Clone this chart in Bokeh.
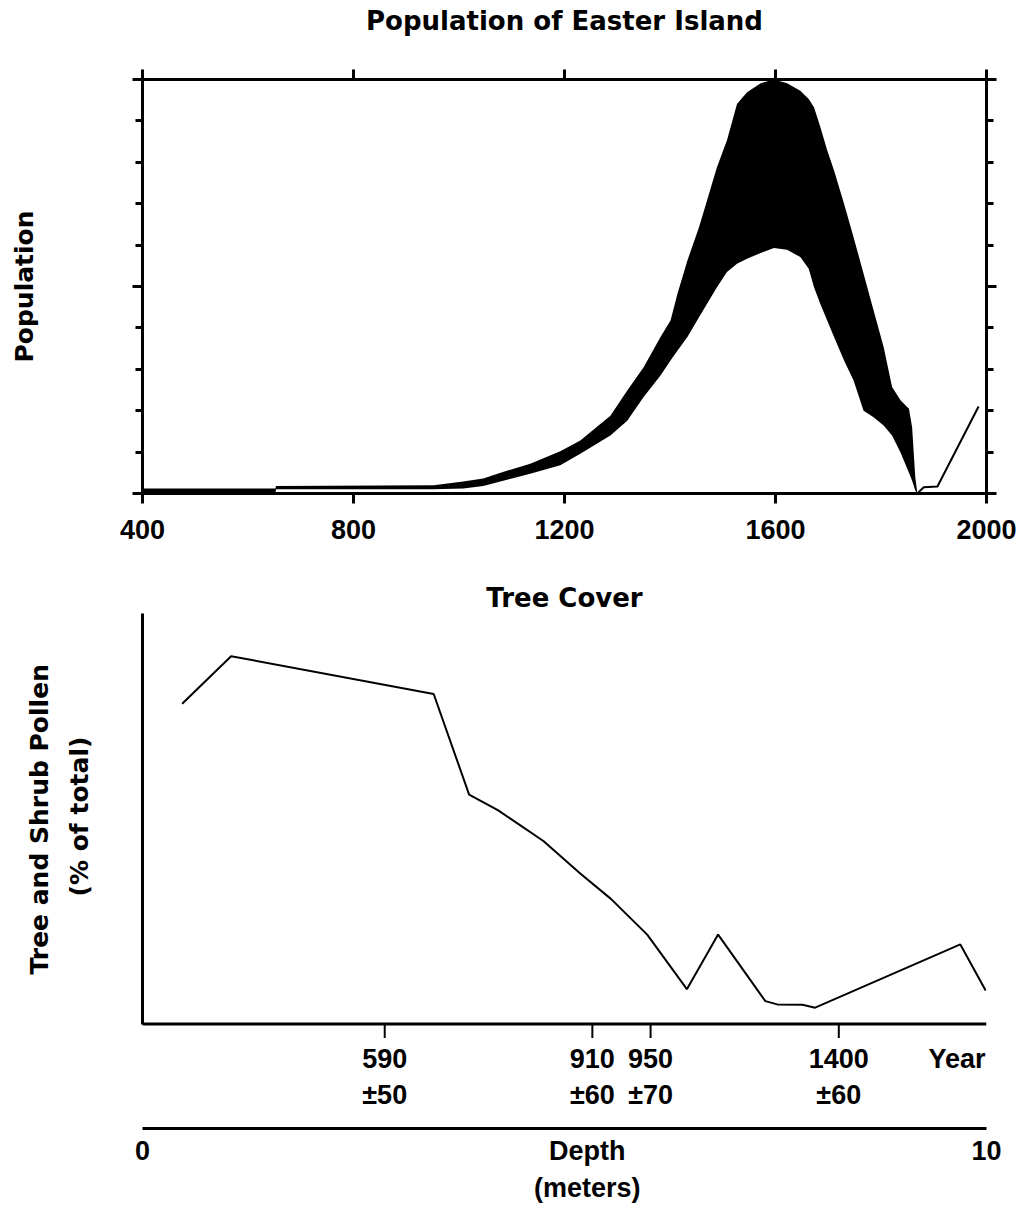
import math
from bokeh.plotting import figure
from bokeh.models import Range1d, LinearAxis, FixedTicker, Span, Grid, Title
from bokeh.core.properties import value
from bokeh.layouts import column
from bokeh.embed import file_html
from bokeh.resources import INLINE

# ---------------- data: population of Easter Island ----------------
pop_years = [400, 652, 653, 952, 1008, 1046, 1073, 1135, 1192, 1230, 1287, 1319,
             1350, 1382, 1401, 1414, 1433, 1455, 1474, 1489, 1508, 1527, 1546,
             1572, 1597, 1622, 1647, 1663, 1673, 1685, 1698, 1711, 1730, 1748,
             1767, 1786, 1805, 1821, 1837, 1853, 1859, 1865, 1869]
pop_low = [0, 0, 0.10, 0.10, 0.12, 0.18, 0.27, 0.48, 0.68, 0.96, 1.40, 1.76,
           2.33, 2.85, 3.21, 3.45, 3.78, 4.26, 4.66, 4.98, 5.35, 5.55, 5.67,
           5.81, 5.93, 5.89, 5.71, 5.43, 4.98, 4.58, 4.18, 3.78, 3.21, 2.73,
           2.00, 1.84, 1.64, 1.40, 0.99, 0.50, 0.31, 0.07, 0]
pop_high = [0.12, 0.12, 0.18, 0.20, 0.29, 0.36, 0.48, 0.72, 1.02, 1.28, 1.88, 2.49,
            3.05, 3.78, 4.18, 4.82, 5.63, 6.43, 7.24, 7.88, 8.53, 9.41, 9.69,
            9.91, 10.0, 9.91, 9.73, 9.53, 9.33, 8.85, 8.29, 7.80, 7.00, 6.19,
            5.31, 4.42, 3.54, 2.57, 2.25, 2.05, 1.60, 0.39, 0]
recent_years = [1869, 1881, 1907, 1985]
recent_pop = [0, 0.15, 0.17, 2.1]
year_ticks = [400, 800, 1200, 1600, 2000]
pop_ticks_major = [0, 5, 10]
pop_ticks_minor = list(range(0, 11))

# ---------------- data: tree cover (pollen) ----------------
depth_m = [0.47, 1.05, 3.45, 3.87, 4.21, 4.75, 5.19, 5.55, 5.98, 6.45, 6.82,
           7.38, 7.52, 7.82, 7.97, 9.69, 9.99]
pollen_pct = [78.0, 89.6, 80.4, 55.9, 52.1, 44.6, 36.6, 30.5, 21.8, 8.5, 21.8,
              5.6, 4.8, 4.7, 4.0, 19.4, 8.2]
dated_depths = [2.87, 5.33, 6.02, 8.25]
dated_years = ["590", "910", "950", "1400"]
dated_errors = ["\u00b150", "\u00b160", "\u00b170", "\u00b160"]
year_word = ["Year"]
year_word_depth = [9.65]
depth_ticks = [0, 5.27, 10]
depth_labels = {0: "0", 5.27: "Depth\n(meters)", 10: "10"}

TXT = "DejaVu Sans"
NUM = "Liberation Sans"


def style_axis(ax, tick_out=0, minor_out=0, tick_w=3, labels=False):
    ax.axis_line_width = 3
    ax.axis_line_color = "black"
    ax.major_tick_line_width = tick_w
    ax.major_tick_line_color = "black"
    ax.major_tick_out = tick_out
    ax.major_tick_in = 0
    ax.minor_tick_line_width = tick_w
    ax.minor_tick_line_color = "black"
    ax.minor_tick_out = minor_out
    ax.minor_tick_in = 0
    if labels:
        ax.major_label_text_font = NUM
        ax.major_label_text_font_style = "bold"
        ax.major_label_text_font_size = "27px"
        ax.major_label_text_color = "black"
    else:
        ax.major_label_text_color = None
        ax.major_label_text_font_size = "1px"
        ax.major_label_standoff = 0


def style_axis_label(ax, text, standoff, size="25px"):
    ax.axis_label = text
    ax.axis_label_text_font = TXT
    ax.axis_label_text_font_style = "bold"
    ax.axis_label_text_font_size = size
    ax.axis_label_text_color = "black"
    ax.axis_label_standoff = standoff


def no_grid(p):
    for g in p.select(type=Grid):
        g.visible = False


def style_title(t, size="26px", align="center"):
    t.align = align
    t.text_font = TXT
    t.text_font_style = "bold"
    t.text_font_size = size
    t.text_color = "black"


# ---------------- top figure ----------------
p1 = figure(width=1021, height=556, x_range=Range1d(400, 2000), y_range=Range1d(0, 10),
            output_backend="svg", toolbar_location=None, title_location=None,
            x_axis_location=None, y_axis_location=None,
            min_border_left=142, min_border_right=35, min_border_top=79, min_border_bottom=63)
p1.outline_line_color = None
p1.background_fill_color = "white"
p1.border_fill_color = "white"
no_grid(p1)

bot = LinearAxis(ticker=FixedTicker(ticks=year_ticks, minor_ticks=[]))
style_axis(bot, tick_out=10, labels=True)
bot.major_label_standoff = 16
p1.add_layout(bot, "below")

# top frame edge carries the chart title
top = LinearAxis(ticker=FixedTicker(ticks=year_ticks, minor_ticks=[]))
style_axis(top, tick_out=10)
style_axis_label(top, "Population of Easter Island", 34, "26px")
p1.add_layout(top, "above")

lft = LinearAxis(ticker=FixedTicker(ticks=pop_ticks_major, minor_ticks=pop_ticks_minor))
style_axis(lft, tick_out=10, minor_out=7)
style_axis_label(lft, "Population", 94)
p1.add_layout(lft, "left")

rgt = LinearAxis(ticker=FixedTicker(ticks=pop_ticks_major, minor_ticks=pop_ticks_minor))
style_axis(rgt, tick_out=10, minor_out=7)
p1.add_layout(rgt, "right")

p1.varea(x=pop_years, y1=pop_low, y2=pop_high, fill_color="black")
p1.line(recent_years, recent_pop, line_color="black", line_width=2)

# ---------------- bottom figure ----------------
PX_PER_PCT = 4.13
tick_len = 14 / PX_PER_PCT
p2 = figure(width=1021, height=650, x_range=Range1d(0, 10),
            y_range=Range1d(-105 / PX_PER_PCT, 100),
            output_backend="svg", toolbar_location=None,
            x_axis_location=None, y_axis_location=None,
            min_border_left=142, min_border_right=35, min_border_top=57, min_border_bottom=75)
p2.outline_line_color = None
p2.background_fill_color = "white"
p2.border_fill_color = "white"
no_grid(p2)

p2.title.text = "Tree Cover"
style_title(p2.title)
p2.title.standoff = 2

# plain axis line: one unmarked, unlabelled tick reserves the space that
# places the two-line y title where the original has it
left2 = LinearAxis(ticker=FixedTicker(ticks=[50], minor_ticks=[]), bounds=(0, 100))
style_axis(left2)
left2.major_tick_out = 44
left2.major_tick_line_color = None
p2.add_layout(left2, "left")

# y-axis title of the pollen chart (two lines), placed alongside the 0-100 % span
t_sub = Title(text="(% of total)", offset=232, standoff=9)
style_title(t_sub, "25px", "left")
p2.add_layout(t_sub, "left")
t_main = Title(text="Tree and Shrub Pollen", offset=154, standoff=9)
style_title(t_main, "25px", "left")
p2.add_layout(t_main, "left")

depth_ax = LinearAxis(ticker=FixedTicker(ticks=depth_ticks, minor_ticks=[]),
                      major_label_overrides=depth_labels)
style_axis(depth_ax, tick_out=0, labels=True)
depth_ax.major_label_text_line_height = 1.25
depth_ax.major_label_standoff = 7
p2.add_layout(depth_ax, "below")

# year axis line and its ticks (drawn at pollen = 0)
p2.add_layout(Span(location=0, dimension="width", line_color="black", line_width=3))
p2.segment(x0=dated_depths, y0=[0] * len(dated_depths), x1=dated_depths,
           y1=[-tick_len] * len(dated_depths), line_color="black", line_width=2)
p2.text(x=dated_depths, y=[-35 / PX_PER_PCT] * len(dated_depths), text=dated_years,
        text_font=value(NUM), text_font_style="bold", text_font_size="27px",
        text_align="center", text_baseline="middle", text_color="black")
p2.text(x=dated_depths, y=[-71.5 / PX_PER_PCT] * len(dated_depths), text=dated_errors,
        text_font=value(NUM), text_font_style="bold", text_font_size="27px",
        text_align="center", text_baseline="middle", text_color="black")
p2.text(x=year_word_depth, y=[-35 / PX_PER_PCT], text=year_word,
        text_font=value(NUM), text_font_style="bold", text_font_size="27px",
        text_align="center", text_baseline="middle", text_color="black")

p2.line(depth_m, pollen_pct, line_color="black", line_width=2)

layout = column(p1, p2, spacing=0)
open("out.html", "w").write(file_html(layout, INLINE))
